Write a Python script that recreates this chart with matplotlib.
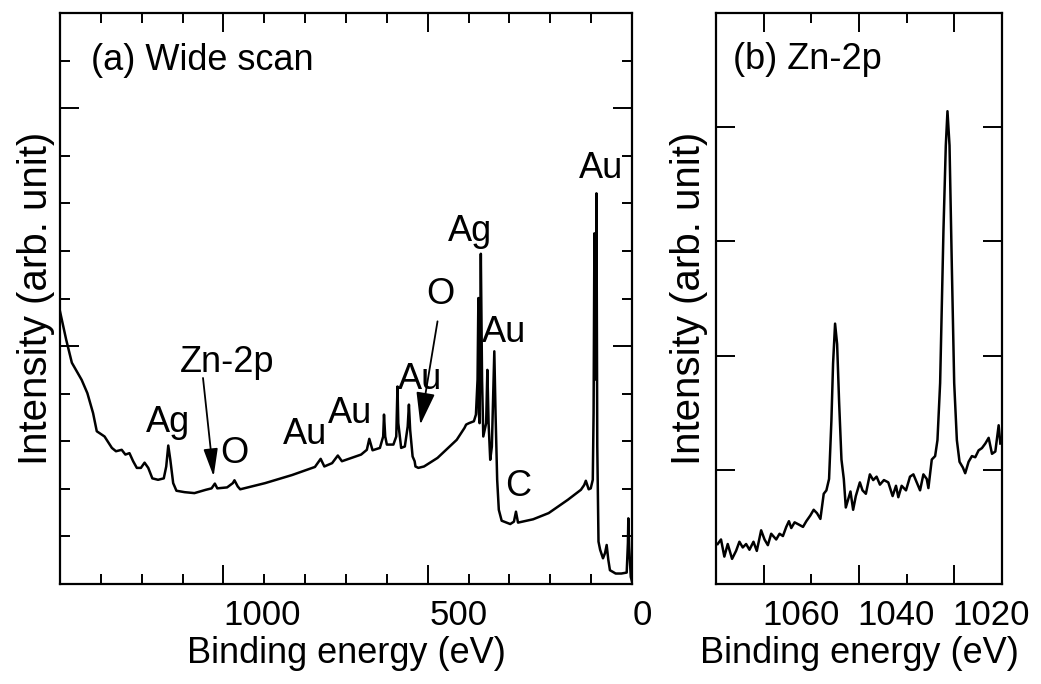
import matplotlib
matplotlib.use("Agg")
import matplotlib.pyplot as plt
from matplotlib.ticker import MultipleLocator, FixedLocator, NullFormatter
from matplotlib.transforms import ScaledTranslation

plt.rcParams['font.family'] = ['Liberation Sans', 'DejaVu Sans']

# (a) wide scan
wide_energy = [1400, 1385, 1371, 1347, 1333, 1319, 1310, 1291, 1273, 1263, 1249, 1240,
               1230, 1221, 1212, 1202, 1193, 1184, 1174, 1160, 1146, 1140, 1135, 1130,
               1123, 1115, 1095, 1071, 1043, 1029, 1021, 1015, 991, 977, 973, 965, 959,
               898, 832, 776, 766, 762, 753, 734, 720, 710, 663, 649, 643, 635, 617,
               609, 607, 604, 600, 584, 577, 574, 572, 565, 556, 549, 546, 543, 537,
               532, 530, 523, 509, 476, 429, 410, 406, 399, 387, 382, 378, 376, 375,
               373, 370, 367, 364, 357, 354, 351, 347, 343, 337, 334, 330, 326, 319,
               298, 289, 284, 279, 242, 204, 157, 125, 117, 113, 106, 101, 98, 96, 94,
               92, 90, 88, 87, 85, 82, 78, 71, 66, 62, 58, 54, 40, 26, 13, 10, 9, 7, 3, 0]
wide_counts = [5.73, 5.14, 4.65, 4.29, 4.01, 3.59, 3.21, 3.10, 2.86, 2.79, 2.82, 2.72,
               2.75, 2.58, 2.44, 2.44, 2.55, 2.44, 2.22, 2.19, 2.22, 2.47, 2.91, 2.61,
               2.12, 1.96, 1.93, 1.91, 1.98, 2.01, 2.11, 2.01, 2.03, 2.12, 2.18, 2.05, 1.99,
               2.12, 2.29, 2.46, 2.58, 2.63, 2.47, 2.54, 2.70, 2.58, 2.72, 2.82, 3.05, 2.81, 2.86,
               3.10, 3.56, 3.10, 2.93, 2.93, 3.10, 4.15, 3.38, 2.86, 2.89, 3.31, 3.77, 3.24, 2.68,
               2.58, 2.47, 2.44, 2.47, 2.65, 3.03, 3.28, 3.35, 3.38, 3.42, 3.56, 4.30, 6.01, 3.60,
               3.38, 6.94, 4.30, 3.10, 3.38, 4.50, 3.38, 2.61, 2.89, 4.89, 3.59, 2.19, 1.56, 1.33,
               1.26, 1.31, 1.52, 1.29, 1.36, 1.49, 1.77, 1.98, 2.08, 2.17, 1.99, 2.01, 2.12, 2.19, 3.60,
               7.37, 4.30, 4.30, 8.21, 2.90, 0.89, 0.72, 0.54, 0.65, 0.82, 0.51, 0.29, 0.22, 0.22, 0.24,
               0.86, 1.38, 0.79, 0.15, 0.05]

# (b) Zn-2p narrow scan
zn_energy = [1069.65, 1068.95, 1068.25, 1067.54, 1066.63, 1065.79, 1065.09, 1064.39,
             1063.68, 1062.98, 1062.14, 1061.44, 1060.53, 1059.82, 1059.12, 1058.42,
             1057.37, 1056.67, 1055.96, 1055.26, 1054.70, 1054.21, 1053.51, 1052.60,
             1051.75, 1051.05, 1050.21, 1049.51, 1048.81, 1048.10, 1047.40, 1046.84,
             1046.28, 1045.79, 1045.44, 1045.02, 1044.59, 1044.17, 1043.68, 1043.19,
             1042.77, 1042.28, 1041.79, 1041.23, 1040.67, 1039.82, 1039.26, 1038.56,
             1037.72, 1037.02, 1036.31, 1035.61, 1034.77, 1033.86, 1032.95, 1032.24,
             1031.75, 1031.05, 1030.14, 1029.30, 1028.59, 1027.89, 1027.19, 1026.49,
             1025.79, 1025.44, 1024.73, 1024.03, 1023.54, 1022.98, 1022.28, 1021.79,
             1021.44, 1021.01, 1020.52, 1020.03, 1019.47, 1018.91, 1018.21, 1017.72,
             1017.01, 1016.31, 1015.61, 1014.91, 1014.21, 1013.50, 1012.80, 1012.10,
             1011.40, 1010.70, 1010.35]
zn_counts = [0.35, 0.39, 0.24, 0.35, 0.22, 0.29, 0.37, 0.32, 0.35, 0.30, 0.37, 0.29,
             0.47, 0.39, 0.34, 0.44, 0.39, 0.44, 0.42, 0.50, 0.55, 0.49, 0.54, 0.52,
             0.50, 0.55, 0.60, 0.65, 0.62, 0.57, 0.79, 0.82, 0.92, 1.43, 1.93, 2.28,
             2.10, 1.59, 1.09, 0.92, 0.67, 0.74, 0.81, 0.65, 0.77, 0.89, 0.82, 0.79,
             0.96, 0.91, 0.94, 0.87, 0.91, 0.89, 0.77, 0.86, 0.76, 0.86, 0.82, 0.94,
             0.96, 0.89, 0.82, 0.96, 0.92, 0.84, 1.09, 1.12, 1.26, 1.76, 3.10, 3.84,
             4.14, 3.84, 2.77, 1.76, 1.26, 1.07, 1.02, 0.97, 1.07, 1.12, 1.11, 1.17,
             1.19, 1.23, 1.28, 1.14, 1.16, 1.39, 1.23]

# peak labels: (text, energy, intensity)
wide_labels = [("Au", 75, 8.74), ("Ag", 396, 7.40), ("O", 469, 6.08), ("Au", 312, 5.28),
               ("Au", 518, 4.29), ("Zn-2p", 990, 4.65), ("Ag", 1136, 3.40), ("O", 973, 2.74),
               ("Au", 800, 3.14), ("Au", 690, 3.59), ("C", 279, 2.04)]
# arrows: (tail energy, tail intensity, tip energy, tip intensity, head length, head width)
wide_arrows = [(1050, 4.33, 1024, 2.26, 0.85, 0.22),
               (476, 5.52, 518, 3.35, 1.0, 0.29)]

wide_ticks = [1000, 500, 0]
wide_ticklabels = ["1000", "500", "0"]
wide_label_shift = [39, 31, 10]   # labels sit right of their ticks in the original
zn_ticks = [1060, 1040, 1020]
zn_ticklabels = ["1060", "1040", "1020"]
zn_label_shift = [37, 37, 37]

W, H = 1041, 684
fig = plt.figure(figsize=(W / 100, H / 100), dpi=100)
ax1 = fig.add_axes([60 / W, 100 / H, 572 / W, 571 / H])
ax2 = fig.add_axes([716 / W, 100 / H, 286 / W, 571 / H])

ax1.plot(wide_energy, wide_counts, color='black', lw=1.8)
ax2.plot(zn_energy, zn_counts, color='black', lw=1.8)

ax1.set_xlim(1400, 0)
ax1.set_ylim(0, 12)
ax2.set_xlim(1070, 1010)
ax2.set_ylim(0, 5)


def shift_labels(ax, shifts):
    for lab, dx in zip(ax.get_xticklabels(), shifts):
        lab.set_transform(lab.get_transform() + ScaledTranslation(dx / 100, 0, fig.dpi_scale_trans))


for ax in (ax1, ax2):
    for s in ax.spines.values():
        s.set_linewidth(1.6)
    ax.tick_params(which='both', direction='in', top=True, right=True, width=1.4,
                   labelsize=25, pad=11)
    ax.tick_params(which='major', length=14)
    ax.tick_params(which='minor', length=7)
    ax.yaxis.set_major_formatter(NullFormatter())
    ax.set_xlabel("Binding energy (eV)", fontsize=26, labelpad=3)
    ax.set_ylabel("Intensity (arb. unit)", fontsize=29, va='center')

ax1.set_xticks(wide_ticks)
ax1.set_xticklabels(wide_ticklabels)
ax1.xaxis.set_minor_locator(MultipleLocator(100))
ax1.yaxis.set_major_locator(FixedLocator([0, 5, 10]))
ax1.yaxis.set_minor_locator(MultipleLocator(1))
ax1.yaxis.set_label_coords(-0.042, 0.5)
shift_labels(ax1, wide_label_shift)

ax2.set_xticks(zn_ticks)
ax2.set_xticklabels(zn_ticklabels)
ax2.xaxis.set_minor_locator(MultipleLocator(10))
ax2.yaxis.set_major_locator(FixedLocator([1, 2, 3, 4]))
ax2.yaxis.set_label_coords(-0.094, 0.5)
shift_labels(ax2, zn_label_shift)

ax1.text(0.054, 0.916, "(a) Wide scan", transform=ax1.transAxes, fontsize=26,
         ha='left', va='center')
ax2.text(0.06, 0.918, "(b) Zn-2p", transform=ax2.transAxes, fontsize=26,
         ha='left', va='center')

for txt, e, v in wide_labels:
    ax1.text(e, v, txt, fontsize=26, ha='center', va='center')

for e0, v0, e1, v1, hl, hw in wide_arrows:
    ax1.annotate('', xy=(e1, v1), xytext=(e0, v0),
                 arrowprops=dict(arrowstyle='-|>,head_length=%g,head_width=%g' % (hl, hw),
                                 mutation_scale=20, lw=1.3, color='black',
                                 shrinkA=0, shrinkB=0))

fig.savefig("out.png", dpi=100)
